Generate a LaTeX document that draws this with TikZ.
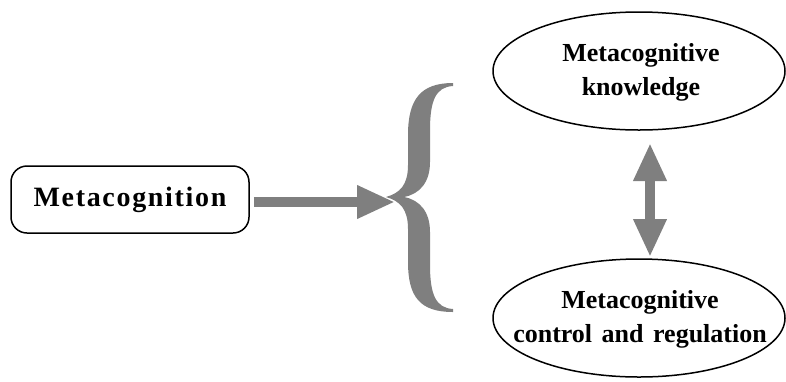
\documentclass[tikz,border=0pt]{standalone}
\usepackage{fontspec}
\setmainfont{Liberation Serif}
\usetikzlibrary{arrows.meta,shapes.geometric}
\definecolor{arrgray}{HTML}{7F7F7F}
\tikzset{
  lbl/.style={font=\fontsize{26}{34}\selectfont\bfseries, align=center, inner sep=0pt},
  oval/.style={draw=black, line width=1.5pt, ellipse, inner sep=0pt, minimum width=292pt, minimum height=118pt},
  fat/.style={draw=arrgray, line width=10pt},
  tipa/.style={-{Triangle[length=38pt,width=31pt]}},
}
\begin{document}
\begin{tikzpicture}[x=1pt,y=-1pt]
\useasboundingbox (0,0) rectangle (786,381);
\node[draw=black, line width=1.5pt, rounded corners=16pt, minimum width=238pt, minimum height=67pt, inner sep=0pt,
      font=\fontsize{28}{32}\selectfont\bfseries\addfontfeature{LetterSpace=6}] (meta) at (130,199.5) {Metacognition};
\node[oval] (know) at (639,71) {};
\node[lbl] (knowtext) at (641,72) {Metacognitive\\knowledge};
\node[oval] (ctrl) at (639,318) {};
\node[lbl] (ctrltext) at (640,319) {Metacognitive\\control\hspace{3pt} and\hspace{3pt} regulation};
% brace
\fill[arrgray] (453,83) .. controls (420,83) and (408,100) .. (408,135) -- (408,165)
  .. controls (408,185) and (400,193) .. (386,197)
  .. controls (400,201) and (408,209) .. (408,229) -- (408,262)
  .. controls (408,297) and (420,312) .. (453,312) -- (453,309)
  .. controls (436,308) and (430,295) .. (430,265) -- (430,232)
  .. controls (430,212) and (420,200) .. (404,197)
  .. controls (420,194) and (430,182) .. (430,162) -- (430,130)
  .. controls (430,100) and (436,87) .. (453,86) -- cycle;
\coordinate (bracetip) at (395,202);
\draw[fat, tipa, arrgray] (meta.east |- 0,202) ++(4,0) -- (bracetip);
\coordinate (ktop) at (650,143);
\coordinate (kbot) at (650,257);
\draw[fat, arrgray, {Triangle[length=38pt,width=31pt]}-{Triangle[length=38pt,width=31pt]}] (ktop) -- (kbot);
\end{tikzpicture}
\end{document}
